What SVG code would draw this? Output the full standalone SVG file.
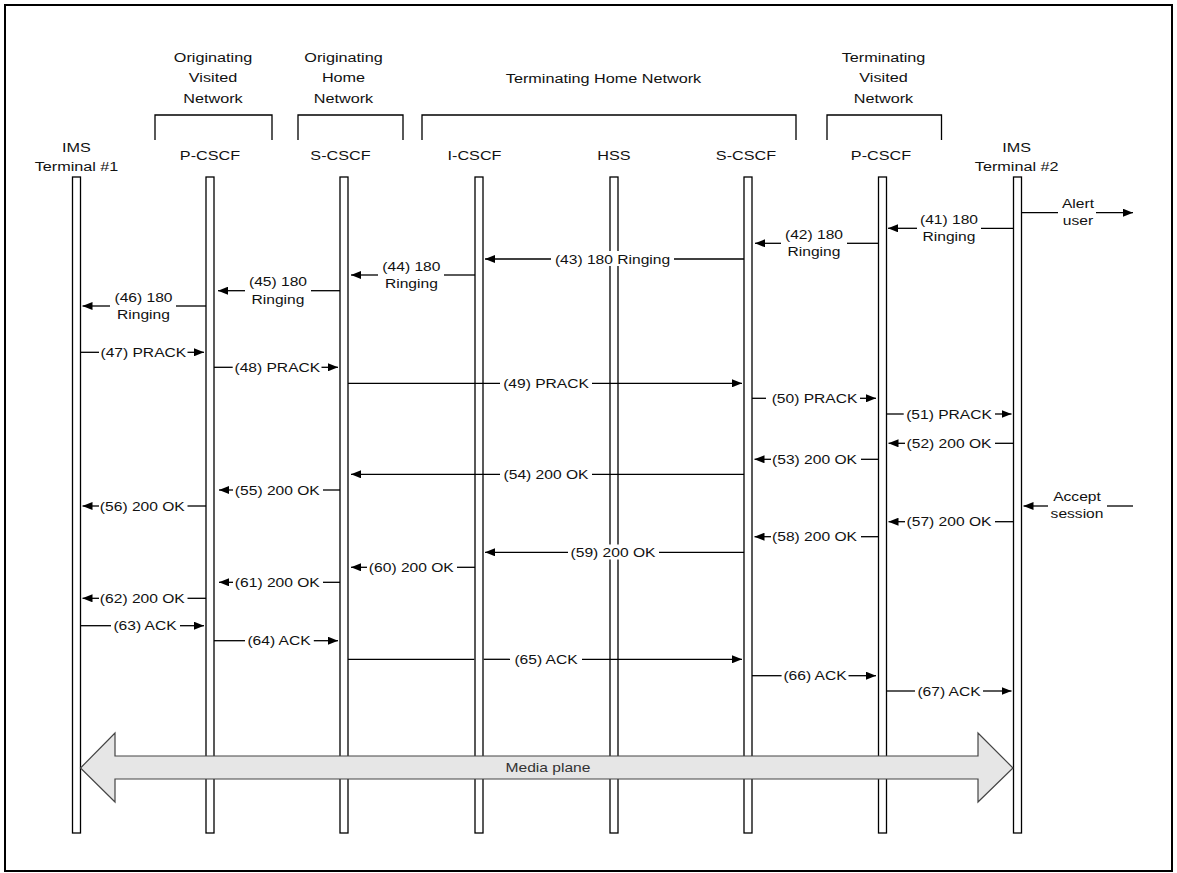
<svg xmlns="http://www.w3.org/2000/svg" width="1177" height="873" viewBox="0 0 1177 873">
<style>
.bd{fill:#fff;stroke:#000;stroke-width:2}
.lf{fill:#fff;stroke:#000;stroke-width:1.3}
.br{fill:none;stroke:#000;stroke-width:1.3}
.ln{stroke:#000;stroke-width:1.3;fill:none}
.ar{marker-end:url(#ah)}
text{font-family:"Liberation Sans",Arial,sans-serif;fill:#111}
.m{font-size:13px;text-anchor:middle}
.h{font-size:13.5px;text-anchor:middle}
.mp{fill:#e6e6e6;stroke:#444;stroke-width:1.2}
.mt{font-size:13px;text-anchor:middle;fill:#333}
</style>
<defs>
<marker id="ah" markerWidth="10" markerHeight="8" refX="10" refY="4" orient="auto" markerUnits="userSpaceOnUse"><path d="M0,0 L10,4 L0,8 z" fill="#000"/></marker>
</defs>
<rect class="bd" x="5" y="5" width="1167" height="866"/>

<g id="net-orig-visited">
<text class="h" transform="translate(213,62) scale(1.2,1)"><tspan x="0">Originating</tspan><tspan x="0" dy="20.5">Visited</tspan><tspan x="0" dy="20.5">Network</tspan></text>
<path class="br" d="M155,140 V115 H272 V140"/>
</g>
<g id="net-orig-home">
<text class="h" transform="translate(343.5,62) scale(1.2,1)"><tspan x="0">Originating</tspan><tspan x="0" dy="20.5">Home</tspan><tspan x="0" dy="20.5">Network</tspan></text>
<path class="br" d="M298,140 V115 H403 V140"/>
</g>
<g id="net-term-home">
<text class="h" transform="translate(603.5,83) scale(1.2,1)">Terminating Home Network</text>
<path class="br" d="M422,140 V115 H796 V140"/>
</g>
<g id="net-term-visited">
<text class="h" transform="translate(883.5,62) scale(1.2,1)"><tspan x="0">Terminating</tspan><tspan x="0" dy="20.5">Visited</tspan><tspan x="0" dy="20.5">Network</tspan></text>
<path class="br" d="M827,140 V115 H941.5 V140"/>
</g>

<g id="ims1">
<text class="h" transform="translate(76.5,152) scale(1.2,1)"><tspan x="0">IMS</tspan><tspan x="0" dy="19">Terminal #1</tspan></text>
<rect class="lf" x="72.5" y="177" width="8" height="656"/>
</g>
<g id="pcscf1">
<text class="h" transform="translate(210,160) scale(1.2,1)">P-CSCF</text>
<rect class="lf" x="206" y="177" width="8" height="656"/>
</g>
<g id="scscf1">
<text class="h" transform="translate(340.5,160) scale(1.2,1)">S-CSCF</text>
<rect class="lf" x="340" y="177" width="8" height="656"/>
</g>
<g id="icscf">
<text class="h" transform="translate(474.5,160) scale(1.2,1)">I-CSCF</text>
<rect class="lf" x="475" y="177" width="8" height="656"/>
</g>
<g id="hss">
<text class="h" transform="translate(614,160) scale(1.2,1)">HSS</text>
<rect class="lf" x="610" y="177" width="8" height="656"/>
</g>
<g id="scscf2">
<text class="h" transform="translate(746,160) scale(1.2,1)">S-CSCF</text>
<rect class="lf" x="744" y="177" width="8" height="656"/>
</g>
<g id="pcscf2">
<text class="h" transform="translate(881,160) scale(1.2,1)">P-CSCF</text>
<rect class="lf" x="878.5" y="177" width="8" height="656"/>
</g>
<g id="ims2">
<text class="h" transform="translate(1016.7,152) scale(1.2,1)"><tspan x="0">IMS</tspan><tspan x="0" dy="19">Terminal #2</tspan></text>
<rect class="lf" x="1013.5" y="177" width="8" height="656"/>
</g>

<g id="connectors">
<!-- 41 -->
<path class="ln" d="M1013.5,228.3 H981"/><path class="ln ar" d="M917,228.3 H888"/>
<text class="m" transform="translate(949,224) scale(1.2,1)"><tspan x="0">(41) 180</tspan><tspan x="0" dy="17.5">Ringing</tspan></text>
<!-- alert -->
<path class="ln" d="M1021.5,212.7 H1058"/><path class="ln ar" d="M1096,212.7 H1133"/>
<text class="m" transform="translate(1078,208) scale(1.2,1)"><tspan x="0">Alert</tspan><tspan x="0" dy="17.5">user</tspan></text>
<!-- 42 -->
<path class="ln" d="M878.5,243.3 H847"/><path class="ln ar" d="M781,243.3 H755"/>
<text class="m" transform="translate(814,239) scale(1.2,1)"><tspan x="0">(42) 180</tspan><tspan x="0" dy="17.5">Ringing</tspan></text>
<!-- 43 -->
<path class="ln" d="M744,259 H674"/><path class="ln ar" d="M551,259 H485"/>
<rect x="555" y="251" width="115" height="15" fill="#fff"/>
<text class="m" transform="translate(612.5,263.5) scale(1.2,1)">(43) 180 Ringing</text>
<!-- 44 -->
<path class="ln" d="M475,275 H444"/><path class="ln ar" d="M378,275 H351"/>
<text class="m" transform="translate(411.4,270.7) scale(1.2,1)"><tspan x="0">(44) 180</tspan><tspan x="0" dy="17.5">Ringing</tspan></text>
<!-- 45 -->
<path class="ln" d="M340,290.7 H311"/><path class="ln ar" d="M245,290.7 H218"/>
<text class="m" transform="translate(278,286.4) scale(1.2,1)"><tspan x="0">(45) 180</tspan><tspan x="0" dy="17.5">Ringing</tspan></text>
<!-- 46 -->
<path class="ln" d="M206,306 H176"/><path class="ln ar" d="M110,306 H82.5"/>
<text class="m" transform="translate(143.5,301.7) scale(1.2,1)"><tspan x="0">(46) 180</tspan><tspan x="0" dy="17.5">Ringing</tspan></text>
<!-- 47 -->
<path class="ln" d="M80.5,352.3 H99"/><path class="ln ar" d="M187.5,352.3 H204"/>
<text class="m" transform="translate(143.3,356.8) scale(1.2,1)">(47) PRACK</text>
<!-- 48 -->
<path class="ln" d="M214,367.3 H232.7"/><path class="ln ar" d="M321.5,367.3 H338"/>
<text class="m" transform="translate(277.3,371.8) scale(1.2,1)">(48) PRACK</text>
<!-- 49 -->
<path class="ln" d="M348,383.3 H500"/><path class="ln ar" d="M592,383.3 H742"/>
<text class="m" transform="translate(546,387.8) scale(1.2,1)">(49) PRACK</text>
<!-- 50 -->
<path class="ln" d="M752,398.3 H766"/><path class="ln ar" d="M860,398.3 H876"/>
<text class="m" transform="translate(814.5,402.8) scale(1.2,1)">(50) PRACK</text>
<!-- 51 -->
<path class="ln" d="M886.5,414 H903.7"/><path class="ln ar" d="M995,414 H1011.5"/>
<text class="m" transform="translate(949,418.5) scale(1.2,1)">(51) PRACK</text>
<!-- 52 -->
<path class="ln" d="M1013.5,443.3 H995"/><path class="ln ar" d="M905,443.3 H888.5"/>
<text class="m" transform="translate(949,447.8) scale(1.2,1)">(52) 200 OK</text>
<!-- 53 -->
<path class="ln" d="M878.5,459.3 H861"/><path class="ln ar" d="M771,459.3 H754.5"/>
<text class="m" transform="translate(814.5,463.8) scale(1.2,1)">(53) 200 OK</text>
<!-- 54 -->
<path class="ln" d="M744,474.3 H592"/><path class="ln ar" d="M500,474.3 H351"/>
<text class="m" transform="translate(546,478.8) scale(1.2,1)">(54) 200 OK</text>
<!-- 55 -->
<path class="ln" d="M340,490 H323"/><path class="ln ar" d="M233,490 H219"/>
<text class="m" transform="translate(277.3,494.5) scale(1.2,1)">(55) 200 OK</text>
<!-- 56 -->
<path class="ln" d="M206,506 H187.5"/><path class="ln ar" d="M99,506 H82.5"/>
<text class="m" transform="translate(142.3,510.5) scale(1.2,1)">(56) 200 OK</text>
<!-- accept -->
<path class="ln" d="M1133,506 H1107"/><path class="ln ar" d="M1048,506 H1023.5"/>
<text class="m" transform="translate(1077,500.5) scale(1.2,1)"><tspan x="0">Accept</tspan><tspan x="0" dy="17.5">session</tspan></text>
<!-- 57 -->
<path class="ln" d="M1013.5,521.7 H995"/><path class="ln ar" d="M905,521.7 H888.5"/>
<text class="m" transform="translate(949,526.2) scale(1.2,1)">(57) 200 OK</text>
<!-- 58 -->
<path class="ln" d="M878.5,536.7 H861"/><path class="ln ar" d="M771,536.7 H754.5"/>
<text class="m" transform="translate(814.5,541.2) scale(1.2,1)">(58) 200 OK</text>
<!-- 59 -->
<path class="ln" d="M744,552.3 H659"/><path class="ln ar" d="M568,552.3 H485"/>
<rect x="570" y="544.5" width="86" height="15" fill="#fff"/>
<text class="m" transform="translate(613,556.8) scale(1.2,1)">(59) 200 OK</text>
<!-- 60 -->
<path class="ln" d="M475,567.3 H457"/><path class="ln ar" d="M367,567.3 H351"/>
<text class="m" transform="translate(411.3,571.8) scale(1.2,1)">(60) 200 OK</text>
<!-- 61 -->
<path class="ln" d="M340,582.3 H323"/><path class="ln ar" d="M233,582.3 H219"/>
<text class="m" transform="translate(277.3,586.8) scale(1.2,1)">(61) 200 OK</text>
<!-- 62 -->
<path class="ln" d="M206,598.3 H187.5"/><path class="ln ar" d="M99,598.3 H82.5"/>
<text class="m" transform="translate(142.3,602.8) scale(1.2,1)">(62) 200 OK</text>
<!-- 63 -->
<path class="ln" d="M80.5,625.7 H111"/><path class="ln ar" d="M180,625.7 H204"/>
<text class="m" transform="translate(145,630.2) scale(1.2,1)">(63) ACK</text>
<!-- 64 -->
<path class="ln" d="M214,640.7 H245"/><path class="ln ar" d="M313.8,640.7 H338"/>
<text class="m" transform="translate(279,645.2) scale(1.2,1)">(64) ACK</text>
<!-- 65 -->
<path class="ln" d="M348,659.3 H474.3"/><path class="ln" d="M483.7,659.3 H510"/><path class="ln ar" d="M582,659.3 H742"/>
<text class="m" transform="translate(546,663.8) scale(1.2,1)">(65) ACK</text>
<!-- 66 -->
<path class="ln" d="M752,675.7 H781.6"/><path class="ln ar" d="M848.5,675.7 H876"/>
<text class="m" transform="translate(815,680.2) scale(1.2,1)">(66) ACK</text>
<!-- 67 -->
<path class="ln" d="M886.5,691 H915"/><path class="ln ar" d="M983,691 H1011.5"/>
<text class="m" transform="translate(949,695.5) scale(1.2,1)">(67) ACK</text>
</g>

<g id="media-plane">
<path class="mp" d="M80.5,768 L115,733 V756 H978 V733 L1013,768 L978,802 V779 H115 V802 Z"/>
<text class="mt" transform="translate(548,772) scale(1.2,1)">Media plane</text>
</g>
</svg>
